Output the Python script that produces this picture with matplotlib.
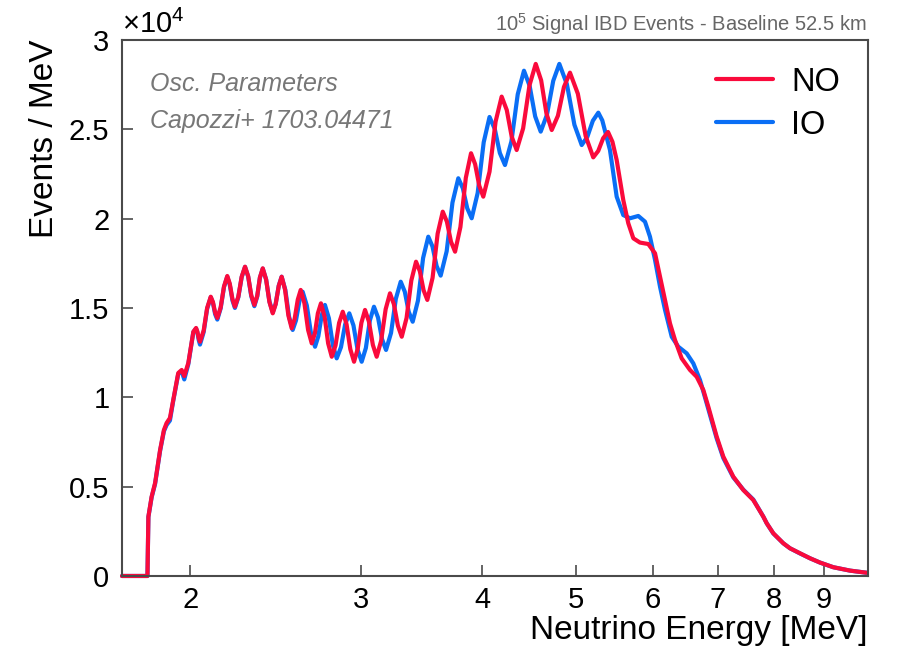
import matplotlib
matplotlib.use("Agg")
import matplotlib.pyplot as plt
from matplotlib.ticker import FixedLocator, NullLocator, FuncFormatter

plt.rcParams['font.family'] = ['Liberation Sans', 'DejaVu Sans']
plt.rcParams['mathtext.fontset'] = 'custom'
plt.rcParams['mathtext.rm'] = 'Liberation Sans'
plt.rcParams['mathtext.it'] = 'Liberation Sans:italic'

# Neutrino energy [MeV] and events / MeV
no_energy = [1.70, 1.806, 1.810, 1.824, 1.839, 1.861, 1.878, 1.890, 1.905, 1.920,
             1.943, 1.959, 1.971, 1.990, 2.014, 2.027, 2.033, 2.040, 2.046, 2.064,
             2.081, 2.099, 2.110, 2.121, 2.132, 2.149, 2.166, 2.183, 2.196, 2.210,
             2.223, 2.241, 2.259, 2.277, 2.294, 2.311, 2.328, 2.344, 2.359, 2.375,
             2.394, 2.413, 2.432, 2.449, 2.467, 2.484, 2.504, 2.524, 2.544, 2.562,
             2.581, 2.599, 2.622, 2.645, 2.668, 2.688, 2.707, 2.727, 2.751, 2.774,
             2.798, 2.823, 2.847, 2.872, 2.898, 2.924, 2.950, 2.976, 3.002, 3.028,
             3.056, 3.085, 3.113, 3.146, 3.180, 3.213, 3.243, 3.274, 3.304, 3.342,
             3.380, 3.418, 3.449, 3.480, 3.511, 3.555, 3.598, 3.642, 3.678, 3.714,
             3.750, 3.798, 3.847, 3.895, 3.933, 3.972, 4.010, 4.070, 4.129, 4.189,
             4.240, 4.290, 4.341, 4.408, 4.475, 4.542, 4.601, 4.659, 4.718, 4.788,
             4.857, 4.927, 5.020, 5.114, 5.207, 5.269, 5.331, 5.393, 5.450, 5.505,
             5.592, 5.659, 5.727, 5.818, 5.934, 6.030, 6.102, 6.175, 6.248, 6.323,
             6.424, 6.552, 6.657, 6.763, 6.843, 6.981, 7.092, 7.262, 7.437, 7.615,
             7.799, 7.862, 7.986, 8.051, 8.178, 8.309, 8.509, 8.714, 8.923, 9.209,
             9.582, 9.970]
no_events = [0, 0, 3320, 4440, 5200, 7050, 8170, 8560, 8840, 9850,
             11360, 11530, 11190, 11920, 13670, 13880, 13690, 13300, 13110, 13740,
             15000, 15630, 15330, 14740, 14440, 15030, 16200, 16790, 16360, 15500,
             15070, 15630, 16750, 17310, 16780, 15710, 15170, 15680, 16710, 17220,
             16590, 15330, 14700, 15210, 16240, 16750, 16030, 14580, 13860, 14400,
             15470, 16010, 15260, 13770, 13020, 13580, 14700, 15260, 14510, 13020,
             12270, 12900, 14160, 14790, 14090, 12690, 11990, 12720, 14170, 14890,
             14240, 12930, 12270, 13160, 14930, 15820, 15210, 14000, 13390, 14440,
             16540, 17590, 17060, 15990, 15450, 16690, 19160, 20390, 19830, 18710,
             18150, 19530, 22280, 23660, 23050, 21840, 21230, 22630, 25430, 26830,
             26080, 24590, 23840, 25050, 27460, 28660, 27740, 25890, 24960, 25760,
             27370, 28170, 26990, 24620, 23430, 23790, 24500, 24850, 24300, 23280,
             21040, 19740, 18900, 18660, 18580, 18060, 16750, 15450, 14140, 13210,
             12180, 11530, 11150, 10410, 9480, 7800, 6680, 5560, 4810, 4250,
             3320, 2950, 2390, 2200, 1830, 1550, 1270, 990, 750, 490,
             300, 180]

io_energy = [1.70, 1.806, 1.810, 1.824, 1.839, 1.861, 1.878, 1.890, 1.905, 1.920,
             1.943, 1.959, 1.971, 1.990, 2.014, 2.027, 2.033, 2.040, 2.046, 2.064,
             2.081, 2.099, 2.110, 2.121, 2.132, 2.149, 2.166, 2.183, 2.196, 2.210,
             2.223, 2.241, 2.259, 2.277, 2.294, 2.311, 2.328, 2.344, 2.359, 2.375,
             2.394, 2.413, 2.432, 2.449, 2.467, 2.484,
             2.506, 2.528, 2.550, 2.570, 2.591, 2.611, 2.637, 2.663, 2.689, 2.710,
             2.732, 2.753, 2.779, 2.805, 2.831, 2.860, 2.888, 2.917, 2.946, 2.975,
             3.004, 3.034, 3.063, 3.093, 3.123, 3.153, 3.183, 3.221, 3.258, 3.296,
             3.328, 3.359, 3.391, 3.434, 3.476, 3.519, 3.554, 3.589, 3.624, 3.676,
             3.727, 3.779, 3.820, 3.860, 3.901, 3.957, 4.014, 4.070, 4.121, 4.171,
             4.222, 4.287, 4.352, 4.417, 4.477, 4.536, 4.596, 4.665, 4.735, 4.804,
             4.891, 4.979, 5.066, 5.134, 5.202, 5.270, 5.320, 5.418, 5.505, 5.592,
             5.682, 5.795, 5.888, 5.958, 6.030, 6.102, 6.175, 6.274, 6.373, 6.501,
             6.604, 6.710, 6.817, 6.981, 7.092, 7.262, 7.437, 7.615, 7.799, 7.862,
             7.986, 8.051, 8.178, 8.309, 8.509, 8.714, 8.923, 9.209, 9.582, 9.970]
io_events = [0, 0, 3300, 4400, 5150, 7000, 8100, 8450, 8700, 9800,
             11300, 11450, 11000, 11850, 13650, 13850, 13650, 13200, 12950, 13650,
             14950, 15600, 15280, 14650, 14350, 14980, 16170, 16750, 16300, 15420,
             15000, 15600, 16720, 17300, 16760, 15660, 15100, 15640, 16690, 17200,
             16600, 15360, 14750, 15240, 16250, 16750,
             16005, 14515, 13770, 14305, 15375, 15910, 15140, 13600, 12830, 13415,
             14585, 15170, 14423, 12928, 12180, 12810, 14070, 14700, 14023, 12668,
             11990, 12760, 14300, 15070, 14465, 13255, 12650, 13605, 15515, 16470,
             15910, 14790, 14230, 15420, 17800, 18990, 18445, 17355, 16810, 18173,
             20898, 22260, 21700, 20580, 20020, 21438, 24273, 25690, 25018, 23673,
             23000, 24320, 26960, 28280, 27428, 25723, 24870, 25818, 27713, 28660,
             27525, 25255, 24120, 24573, 25478, 25930, 25500, 23840, 21230, 20200,
             20020, 20150, 19830, 18990, 17690, 16190, 14890, 13390, 12830, 12460,
             11900, 10970, 9670, 7700, 6600, 5520, 4830, 4280, 3320, 2950,
             2380, 2190, 1830, 1550, 1260, 990, 750, 490, 300, 180]

x_ticks = [2, 3, 4, 5, 6, 7, 8, 9]
y_ticks = [0, 5000, 10000, 15000, 20000, 25000, 30000]

red = '#fa0a3c'
blue = '#0a6ef5'
frame = '#4a4a4a'

fig = plt.figure(figsize=(8.99, 6.52), dpi=100)
ax = fig.add_axes([0.1357, 0.1166, 0.8298, 0.8221])

l_io, = ax.plot(io_energy, io_events, color=blue, lw=3, clip_on=False,
                solid_joinstyle='round', solid_capstyle='round')
l_no, = ax.plot(no_energy, no_events, color=red, lw=3, clip_on=False,
                solid_joinstyle='round', solid_capstyle='round')

ax.set_xscale('log')
ax.set_xlim(1.7, 10)
ax.set_ylim(0, 30000)
ax.xaxis.set_major_locator(FixedLocator(x_ticks))
ax.xaxis.set_minor_locator(NullLocator())
ax.xaxis.set_major_formatter(FuncFormatter(lambda v, p: f'{v:g}'))
ax.yaxis.set_major_locator(FixedLocator(y_ticks))
ax.yaxis.set_major_formatter(FuncFormatter(lambda v, p: f'{v / 1e4:g}'))

ax.tick_params(direction='in', length=8, width=1.2, color=frame, labelsize=21, pad=9)
ax.tick_params(axis='x', pad=7)
for s in ax.spines.values():
    s.set_color(frame)
    s.set_linewidth(1.5)

ax.set_xlabel('Neutrino Energy [MeV]', fontsize=24, loc='right')
ax.xaxis.set_label_coords(1.0, -0.072)
ax.set_ylabel('Events / MeV', fontsize=24, loc='top')
ax.yaxis.set_label_coords(-0.083, 1.0)

ax.text(0.0, 1.002, '×10$^{4}$', transform=ax.transAxes, ha='left', va='bottom', fontsize=21)
ax.text(0.998, 1.006, '10$^{5}$ Signal IBD Events - Baseline 52.5 km', transform=ax.transAxes,
        ha='right', va='bottom', fontsize=14.5, color='#666666')
ax.text(0.0375, 0.918, 'Osc. Parameters', transform=ax.transAxes, ha='left', va='center',
        fontsize=18, style='italic', color='#777777')
ax.text(0.0375, 0.849, 'Capozzi+ 1703.04471', transform=ax.transAxes, ha='left', va='center',
        fontsize=18, style='italic', color='#777777')

ax.legend([l_no, l_io], ['NO', 'IO'], loc='upper right', bbox_to_anchor=(0.9625, 0.95),
          frameon=False, fontsize=23.5, handlelength=1.75, handletextpad=0.55,
          labelspacing=0.36, borderpad=0, borderaxespad=0)

fig.savefig('out.png', dpi=100)
